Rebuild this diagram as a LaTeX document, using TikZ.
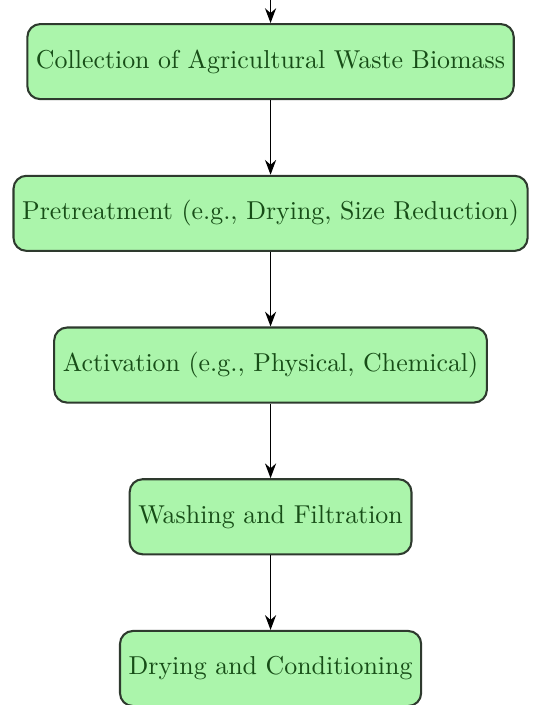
\documentclass[tikz,border=0pt]{standalone}
\usepackage{tikz}
\usetikzlibrary{arrows.meta,positioning}
\definecolor{boxfill}{HTML}{ABF5AB}
\definecolor{boxtext}{HTML}{174D17}
\definecolor{boxline}{HTML}{2E3A2E}

\begin{document}
\begin{tikzpicture}[>=Stealth,node distance=28.8pt,
  stage/.style={draw=boxline,thick,fill=boxfill,rounded corners=5pt,
    text=boxtext,minimum height=29pt,align=center},
  flow/.style={->,semithick,black}]
\useasboundingbox (-104.5pt,23.8pt) rectangle (102.9pt,-248.5pt);
\node[stage] (collect) at (0,0) {Collection of Agricultural Waste Biomass};
\node[stage,below=of collect] (pretreat) {Pretreatment (e.g., Drying, Size Reduction)};
\node[stage,below=of pretreat] (activate) {Activation (e.g., Physical, Chemical)};
\node[stage,below=of activate] (wash) {Washing and Filtration};
\node[stage,below=of wash] (dry) {Drying and Conditioning};
\coordinate[above=of collect] (source);
\draw[flow] (source) -- (collect);
\draw[flow] (collect) -- (pretreat);
\draw[flow] (pretreat) -- (activate);
\draw[flow] (activate) -- (wash);
\draw[flow] (wash) -- (dry);
\end{tikzpicture}
\end{document}
